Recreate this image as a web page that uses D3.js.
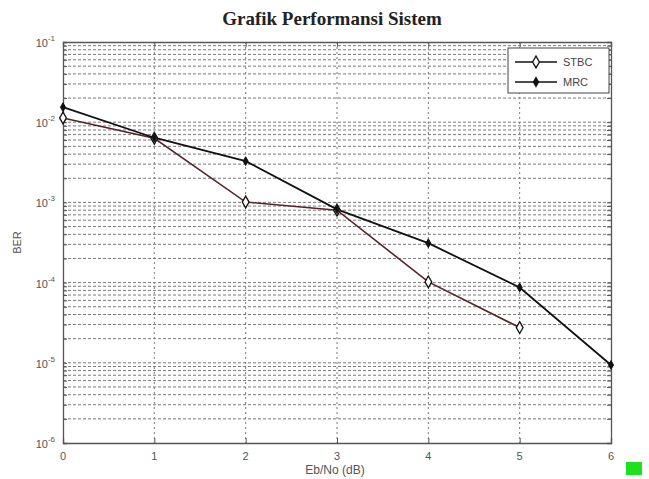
<!DOCTYPE html>
<html>
<head>
<meta charset="utf-8">
<script src="https://cdn.jsdelivr.net/npm/d3@7"></script>
<style>
  body { margin: 0; background: #fff; }
  svg { display: block; }
</style>
</head>
<body>
<script>
// values
var ebnoStbc = [0, 1, 2, 3, 4, 5];
var berStbc = [0.0113, 0.0063, 0.00101, 0.00080, 0.000102, 0.0000275];
var ebnoMrc = [0, 1, 2, 3, 4, 5, 6];
var berMrc = [0.0154, 0.0064, 0.00327, 0.00082, 0.00031, 0.000087, 0.0000094];
var xTicks = [0, 1, 2, 3, 4, 5, 6];
var yExps = [-1, -2, -3, -4, -5, -6];
var seriesNames = ["STBC", "MRC"];

var W = 649, H = 479;
var margin = {top: 42, right: 38, bottom: 36, left: 63};

var svg = d3.select("body").append("svg")
  .attr("width", W)
  .attr("height", H);

var x = d3.scaleLinear().domain([0, 6]).range([margin.left, W - margin.right]);
var y = d3.scaleLog().domain([1e-6, 1e-1]).range([H - margin.bottom, margin.top]);

// grid, minor values of every decade
var gridVals = [];
yExps.forEach(function(e){
  if (e == -1) return;
  for (var k = 1; k < 10; k++) gridVals.push(k * Math.pow(10, e));
});

var grid = svg.append("g");
grid.selectAll("line.h")
  .data(gridVals.filter(function(v){ return v > 1e-6; }))
  .enter().append("line")
  .attr("x1", x(0)).attr("x2", x(6))
  .attr("y1", function(d){ return y(d); })
  .attr("y2", function(d){ return y(d); })
  .style("stroke", "#7a7a7a")
  .style("stroke-width", 1)
  .style("stroke-dasharray", "3,2");

grid.selectAll("line.v")
  .data(xTicks.slice(1, -1))
  .enter().append("line")
  .attr("y1", y(1e-1)).attr("y2", y(1e-6))
  .attr("x1", function(d){ return x(d); })
  .attr("x2", function(d){ return x(d); })
  .style("stroke", "#7a7a7a")
  .style("stroke-width", 1)
  .style("stroke-dasharray", "2,3");

// axes
var xAxis = svg.append("g")
  .attr("transform", "translate(0," + y(1e-6) + ")")
  .call(d3.axisBottom(x).tickValues(xTicks).tickSize(-5).tickFormat(""));
var xAxisTop = svg.append("g")
  .attr("transform", "translate(0," + y(1e-1) + ")")
  .call(d3.axisTop(x).tickValues(xTicks).tickSize(-5).tickFormat(""));
var yAxis = svg.append("g")
  .attr("transform", "translate(" + x(0) + ",0)")
  .call(d3.axisLeft(y).tickValues(gridVals).tickSize(-4).tickFormat(""));
var yAxisR = svg.append("g")
  .attr("transform", "translate(" + x(6) + ",0)")
  .call(d3.axisRight(y).tickValues(gridVals).tickSize(-4).tickFormat(""));

svg.selectAll(".domain").style("stroke", "#555").style("stroke-width", 1.3);
svg.selectAll(".tick line").style("stroke", "#555");

// tick labels
svg.append("g").selectAll("text")
  .data(xTicks)
  .enter().append("text")
  .attr("x", function(d){ return x(d); })
  .attr("y", y(1e-6) + 17)
  .attr("text-anchor", "middle")
  .style("font-family", "Liberation Sans, Arial, sans-serif")
  .style("font-size", "11px")
  .style("fill", "#555")
  .text(function(d){ return d; });

var yl = svg.append("g").selectAll("text")
  .data(yExps)
  .enter().append("text")
  .attr("x", x(0) - 8)
  .attr("y", function(d){ return y(Math.pow(10, d)) + 5; })
  .attr("text-anchor", "end")
  .style("font-family", "Liberation Sans, Arial, sans-serif")
  .style("font-size", "11px")
  .style("fill", "#555");
yl.append("tspan").text("10");
yl.append("tspan")
  .attr("dy", -6)
  .style("font-size", "8px")
  .text(function(d){ return d; });

// titles
svg.append("text")
  .attr("x", 332).attr("y", 25)
  .attr("text-anchor", "middle")
  .style("font-family", "Liberation Serif, Times New Roman, serif")
  .style("font-weight", "bold")
  .style("font-size", "19px")
  .style("fill", "#222")
  .text("Grafik Performansi Sistem");

svg.append("text")
  .attr("x", x(3) - 2).attr("y", H - 5)
  .attr("text-anchor", "middle")
  .style("font-family", "Liberation Sans, Arial, sans-serif")
  .style("font-size", "12px")
  .style("fill", "#555")
  .text("Eb/No (dB)");

svg.append("text")
  .attr("transform", "translate(21," + y(Math.pow(10, -3.5)) + ") rotate(-90)")
  .attr("text-anchor", "middle")
  .style("font-family", "Liberation Sans, Arial, sans-serif")
  .style("font-size", "11px")
  .style("fill", "#555")
  .text("BER");

// lines
var line = d3.line()
  .x(function(d){ return x(d[0]); })
  .y(function(d){ return y(d[1]); });

var stbc = d3.zip(ebnoStbc, berStbc);
var mrc = d3.zip(ebnoMrc, berMrc);

svg.append("path")
  .datum(stbc)
  .attr("d", line)
  .style("fill", "none")
  .style("stroke", "#5a2228")
  .style("stroke-width", 1.6);

svg.append("path")
  .datum(mrc)
  .attr("d", line)
  .style("fill", "none")
  .style("stroke", "#111")
  .style("stroke-width", 1.8);

svg.append("g").selectAll("path")
  .data(stbc)
  .enter().append("path")
  .attr("transform", function(d){ return "translate(" + x(d[0]) + "," + y(d[1]) + ")"; })
  .attr("d", d3.symbol().type(d3.symbolDiamond).size(40))
  .style("fill", "#fff")
  .style("stroke", "#111")
  .style("stroke-width", 1.3);

svg.append("g").selectAll("path")
  .data(mrc)
  .enter().append("path")
  .attr("transform", function(d){ return "translate(" + x(d[0]) + "," + y(d[1]) + ")"; })
  .attr("d", d3.symbol().type(d3.symbolDiamond).size(22))
  .style("fill", "#111")
  .style("stroke", "#111");

// legend
var leg = svg.append("g").attr("transform", "translate(508,48)");
leg.append("rect")
  .attr("width", 101).attr("height", 45)
  .style("fill", "#fff")
  .style("stroke", "#444")
  .style("stroke-width", 1);

seriesNames.forEach(function(name, i){
  var ly = 14 + i * 20;
  leg.append("line")
    .attr("x1", 7).attr("x2", 49)
    .attr("y1", ly).attr("y2", ly)
    .style("stroke", "#111")
    .style("stroke-width", 1.6);
  leg.append("path")
    .attr("transform", "translate(28," + ly + ")")
    .attr("d", d3.symbol().type(d3.symbolDiamond).size(i == 0 ? 40 : 22))
    .style("fill", i == 0 ? "#fff" : "#111")
    .style("stroke", "#111")
    .style("stroke-width", 1.3);
  leg.append("text")
    .attr("x", 55).attr("y", ly + 4)
    .style("font-family", "Liberation Sans, Arial, sans-serif")
    .style("font-size", "11px")
    .style("fill", "#444")
    .text(name);
});

// little green square in the lower corner of the picture
svg.append("rect")
  .attr("x", 626).attr("y", 462)
  .attr("width", 16).attr("height", 13)
  .style("fill", "#1ee01e");
</script>
</body>
</html>
